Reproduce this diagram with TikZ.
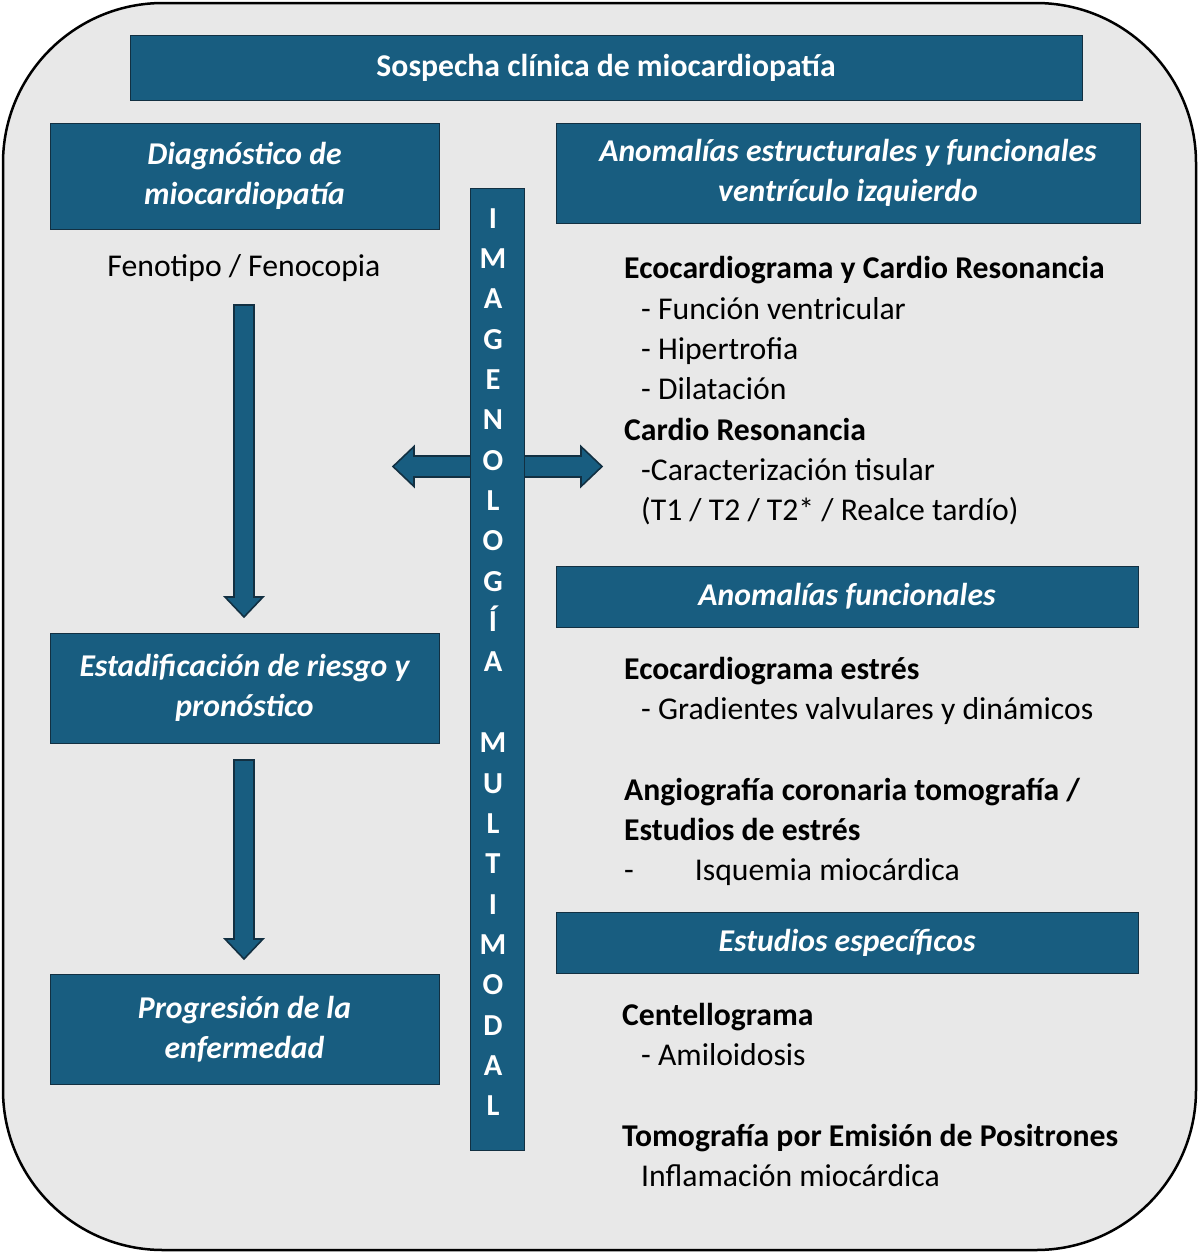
\documentclass[tikz,border=0pt]{standalone}
\usepackage{fontspec}
\setmainfont{Carlito}
\usetikzlibrary{calc}

\definecolor{boxblue}{RGB}{24,93,128}
\definecolor{boxedge}{RGB}{18,48,66}
\definecolor{panelgray}{RGB}{232,232,232}

\tikzset{
  bluebox/.style={draw=boxedge, line width=1pt, fill=boxblue, text=white, align=center,
    inner sep=0pt, font=\fontsize{31.7}{40}\selectfont\bfseries\itshape},
  titlebox/.style={bluebox, font=\fontsize{31.7}{40}\selectfont\bfseries},
  barletter/.style={anchor=base, inner sep=0pt, text=white, font=\fontsize{30.5}{30}\selectfont\bfseries},
  txt/.style={anchor=base west, inner sep=0pt, font=\fontsize{31.7}{40}\selectfont},
  txtb/.style={txt, font=\fontsize{31.7}{40}\selectfont\bfseries},
  blockarrow/.style={draw=boxedge, line width=1.6pt, fill=boxblue, line join=miter}
}

% vertical block arrow from #1 down to tip #2
\newcommand{\blockdown}[2]{%
  \draw[blockarrow] let \p1=(#1), \p2=(#2) in
    (\x1-10pt,\y1) -- (\x1+10pt,\y1) -- (\x1+10pt,\y2+20pt) -- (\x1+19pt,\y2+20pt)
    -- (\x2,\y2) -- (\x1-19pt,\y2+20pt) -- (\x1-10pt,\y2+20pt) -- cycle;}

\begin{document}
\begin{tikzpicture}[x=1pt,y=-1pt]
  \useasboundingbox (0,0) rectangle (1200,1253);
  \fill[white] (0,0) rectangle (1200,1253);
  \draw[line width=2.5pt, fill=panelgray, rounded corners=160pt] (3,3) rectangle (1196,1250);

  % boxes
  \node[titlebox, minimum width=952pt, minimum height=65pt] (title) at (606,67.5) {Sospecha clínica de miocardiopatía};
  \node[bluebox, minimum width=389pt, minimum height=106pt] (diag) at (244.5,176) {Diagnóstico de\\miocardiopatía};
  \node[bluebox, minimum width=389pt, minimum height=110pt] (stage) at (244.5,688) {Estadificación de riesgo y\\pronóstico};
  \node[bluebox, minimum width=389pt, minimum height=110pt] (prog) at (244.5,1029) {Progresión de la\\enfermedad};
  \node[bluebox, minimum width=584pt, minimum height=100pt] (anom) at (848,173) {Anomalías estructurales y funcionales\\ventrículo izquierdo};
  \node[bluebox, minimum width=582pt, minimum height=61pt] (func) at (847,596.5) {Anomalías funcionales};
  \node[bluebox, minimum width=582pt, minimum height=61pt] (spec) at (847,942.5) {Estudios específicos};

  \node[anchor=base, inner sep=0pt, font=\fontsize{31.7}{40}\selectfont] (fen) at (244,276) {Fenotipo / Fenocopia};

  % arrows
  \coordinate (a1s) at (244,305);
  \coordinate (a1e) at (244,617);
  \coordinate (a2s) at (244,760);
  \coordinate (a2e) at (244,959);
  \blockdown{a1s}{a1e}
  \blockdown{a2s}{a2e}

  \coordinate (hl) at (393,466.5);
  \coordinate (hr) at (602,466.5);
  \draw[blockarrow] let \p1=(hl), \p2=(hr) in
    (\x1,\y1) -- (\x1+21pt,\y1+20pt) -- (\x1+21pt,\y1+10.5pt) -- (\x2-21pt,\y1+10.5pt)
    -- (\x2-21pt,\y1+20pt) -- (\x2,\y2) -- (\x2-21pt,\y1-20pt) -- (\x2-21pt,\y1-10.5pt)
    -- (\x1+21pt,\y1-10.5pt) -- (\x1+21pt,\y1-20pt) -- cycle;

  % vertical bar
  \node[draw=boxedge, line width=1pt, fill=boxblue, minimum width=54pt, minimum height=962pt, inner sep=0pt] (bar) at (497,669) {};
  \foreach \l [count=\i] in {I,M,A,G,E,N,O,L,O,G,Í,A,{},M,U,L,T,I,M,O,D,A,L}{
    \node[barletter] (let\i) at (493,{228+(\i-1)*40.36}) {\l};
  }

  % right column text
  \node[txtb] (eco) at (624,278) {Ecocardiograma y Cardio Resonancia};
  \node[txt] (eco1) at (641,319) {- Función ventricular};
  \node[txt] (eco2) at (641,359) {- Hipertrofia};
  \node[txt] (eco3) at (641,399) {- Dilatación};
  \node[txtb] (cmr) at (624,440) {Cardio Resonancia};
  \node[txt] (cmr1) at (641,480) {-Caracterización tisular};
  \node[txt] (cmr2) at (641,520) {(T1 / T2 / T2* / Realce tardío)};

  \node[txtb] (stress) at (624,679) {Ecocardiograma estrés};
  \node[txt] (stress1) at (641,719) {- Gradientes valvulares y dinámicos};
  \node[txtb] (angio) at (624,800) {Angiografía coronaria tomografía /};
  \node[txtb] (angio2) at (624,840) {Estudios de estrés};
  \node[txt] (angio3) at (624,880) {-\hspace*{61pt}Isquemia miocárdica};

  \node[txtb] (cent) at (622,1025) {Centellograma};
  \node[txt] (cent1) at (641,1065) {- Amiloidosis};
  \node[txtb] (pet) at (622,1146) {Tomografía por Emisión de Positrones};
  \node[txt] (pet1) at (641,1186) {Inflamación miocárdica};
\end{tikzpicture}
\end{document}
